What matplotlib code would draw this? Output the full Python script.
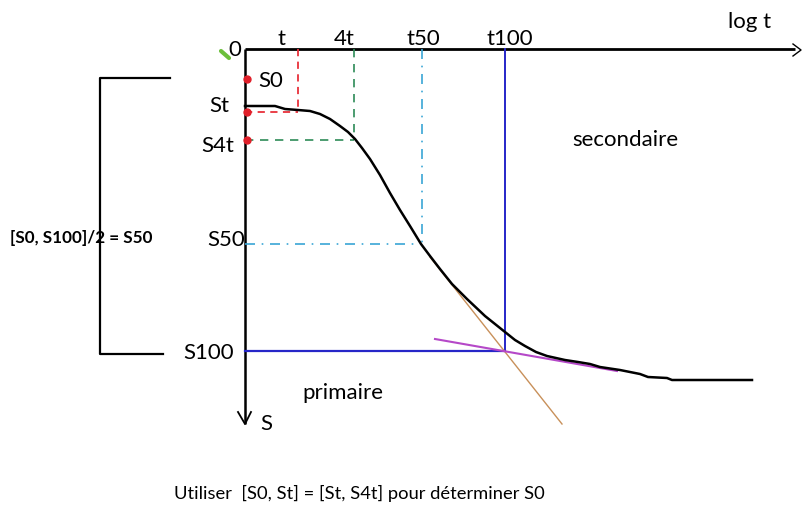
import matplotlib
matplotlib.use("Agg")
import matplotlib.pyplot as plt

plt.rcParams['font.family'] = ['Lato', 'DejaVu Sans']

# Consolidation curve (log t horizontal, settlement S downward)
curve_x = [245, 275, 285, 298, 310, 320, 330, 340, 348, 355, 362, 370, 380,
           390, 400, 410, 421, 430, 440, 452, 467, 485, 505, 515, 525, 536,
           547, 556, 565, 578, 590, 600, 620, 640, 648, 667, 672, 752]
curve_y = [107, 107, 110, 111, 112, 115, 120, 127, 133, 140, 149, 160, 176,
           194, 211, 227, 245, 257, 270, 285, 300, 317, 333, 341, 347, 353,
           357, 359, 361, 363, 365, 368, 371, 375, 378, 379, 381, 381]

# Construction levels on the S axis
level_names = ["S0", "St", "S4t", "S50", "S100"]
level_y = [80, 113, 141, 245, 352]

# Times on the log t axis
time_names = ["t", "4t", "t50", "t100"]
time_x = [298, 354, 422, 505]

# Tangent lines
primary_x = [430, 562]
primary_y = [258, 425]
secondary_x = [435, 617]
secondary_y = [340, 372]

fig = plt.figure(figsize=(8.02, 5.10), dpi=100)
ax = fig.add_axes([0, 0, 1, 1])
ax.set_xlim(0, 802)
ax.set_ylim(510, 0)
ax.axis("off")

axis_x, axis_y = 245, 50

# Axes of the diagram
ax.plot([axis_x, 795], [axis_y, axis_y], color="black", lw=2, solid_capstyle="butt")
ax.plot([axis_x, axis_x], [axis_y, 425], color="black", lw=1.8, solid_capstyle="butt")
ax.plot([793, 801, 793], [45, 51, 57], color="black", lw=1.0)
ax.plot([238, 245, 251], [413, 425, 413], color="black", lw=1.3)

# Construction lines
red, green, cyan, blue = "#e8303a", "#2e8b57", "#3aa6d6", "#2626c8"
ax.plot([time_x[0]] * 2, [axis_y, level_y[1]], color=red, lw=1.3, ls=(0, (4, 3)))
ax.plot([axis_x, time_x[0]], [level_y[1]] * 2, color=red, lw=1.3, ls=(0, (4, 3)))
ax.plot([time_x[1]] * 2, [axis_y, level_y[2]], color=green, lw=1.2, ls=(0, (5, 4)))
ax.plot([axis_x, time_x[1]], [level_y[2]] * 2, color=green, lw=1.2, ls=(0, (5, 4)))
ax.plot([time_x[2]] * 2, [axis_y, level_y[3]], color=cyan, lw=1.2, ls=(0, (6, 4, 1, 4)))
ax.plot([axis_x, time_x[2]], [level_y[3]] * 2, color=cyan, lw=1.2, ls=(0, (6, 4, 1, 4)))
ax.plot([time_x[3]] * 2, [axis_y, level_y[4]], color=blue, lw=1.4)
ax.plot([axis_x, time_x[3]], [level_y[4]] * 2, color=blue, lw=1.6)

# Tangents
ax.plot(primary_x, primary_y, color="#c8905a", lw=1.0)
ax.plot(secondary_x, secondary_y, color="#b548c8", lw=1.5)

# Curve
ax.plot(curve_x, curve_y, color="black", lw=1.8, solid_joinstyle="round")

# Points on the S axis
ax.plot([247, 247, 247], [level_y[0], level_y[1], level_y[2]], "o",
        color="#e0202a", ms=5, mec="#e0202a")

# Small green mark near the origin
ax.plot([221, 229], [52, 59], color="#6bbf3a", lw=3, solid_capstyle="round")

fs = 16
# Time labels
ax.text(235, 50, "0", fontsize=fs, ha="center", va="center")
time_label_x = [281, 344, 423, 510]
for name, x in zip(time_names, time_label_x):
    ax.text(x, 39, name, fontsize=fs, ha="center", va="center")
ax.text(750, 22, "log t", fontsize=fs, ha="center", va="center")

# Level labels
ax.text(258, 81, "S0", fontsize=fs, ha="left", va="center")
ax.text(219, 106, "St", fontsize=fs, ha="center", va="center")
ax.text(234, 146, "S4t", fontsize=fs, ha="right", va="center")
ax.text(245, 240, "S50", fontsize=fs, ha="right", va="center")
ax.text(234, 353, "S100", fontsize=fs, ha="right", va="center")
ax.text(260, 424, "S", fontsize=fs, ha="left", va="center")

ax.text(625, 140, "secondaire", fontsize=fs, ha="center", va="center")
ax.text(343, 393, "primaire", fontsize=fs, ha="center", va="center")

# Bracket spanning S0 .. S100
ax.plot([170, 100, 100, 163], [79, 79, 355, 355], color="black", lw=1.6)
ax.text(10, 238, "[S0, S100]/2 = S50", fontsize=12.3, ha="left", va="center",
        fontweight="bold")

ax.text(174, 493, "Utiliser  [S0, St] = [St, S4t] pour déterminer S0",
        fontsize=13.2, ha="left", va="center")

fig.savefig("out.png", dpi=100, facecolor="white")
